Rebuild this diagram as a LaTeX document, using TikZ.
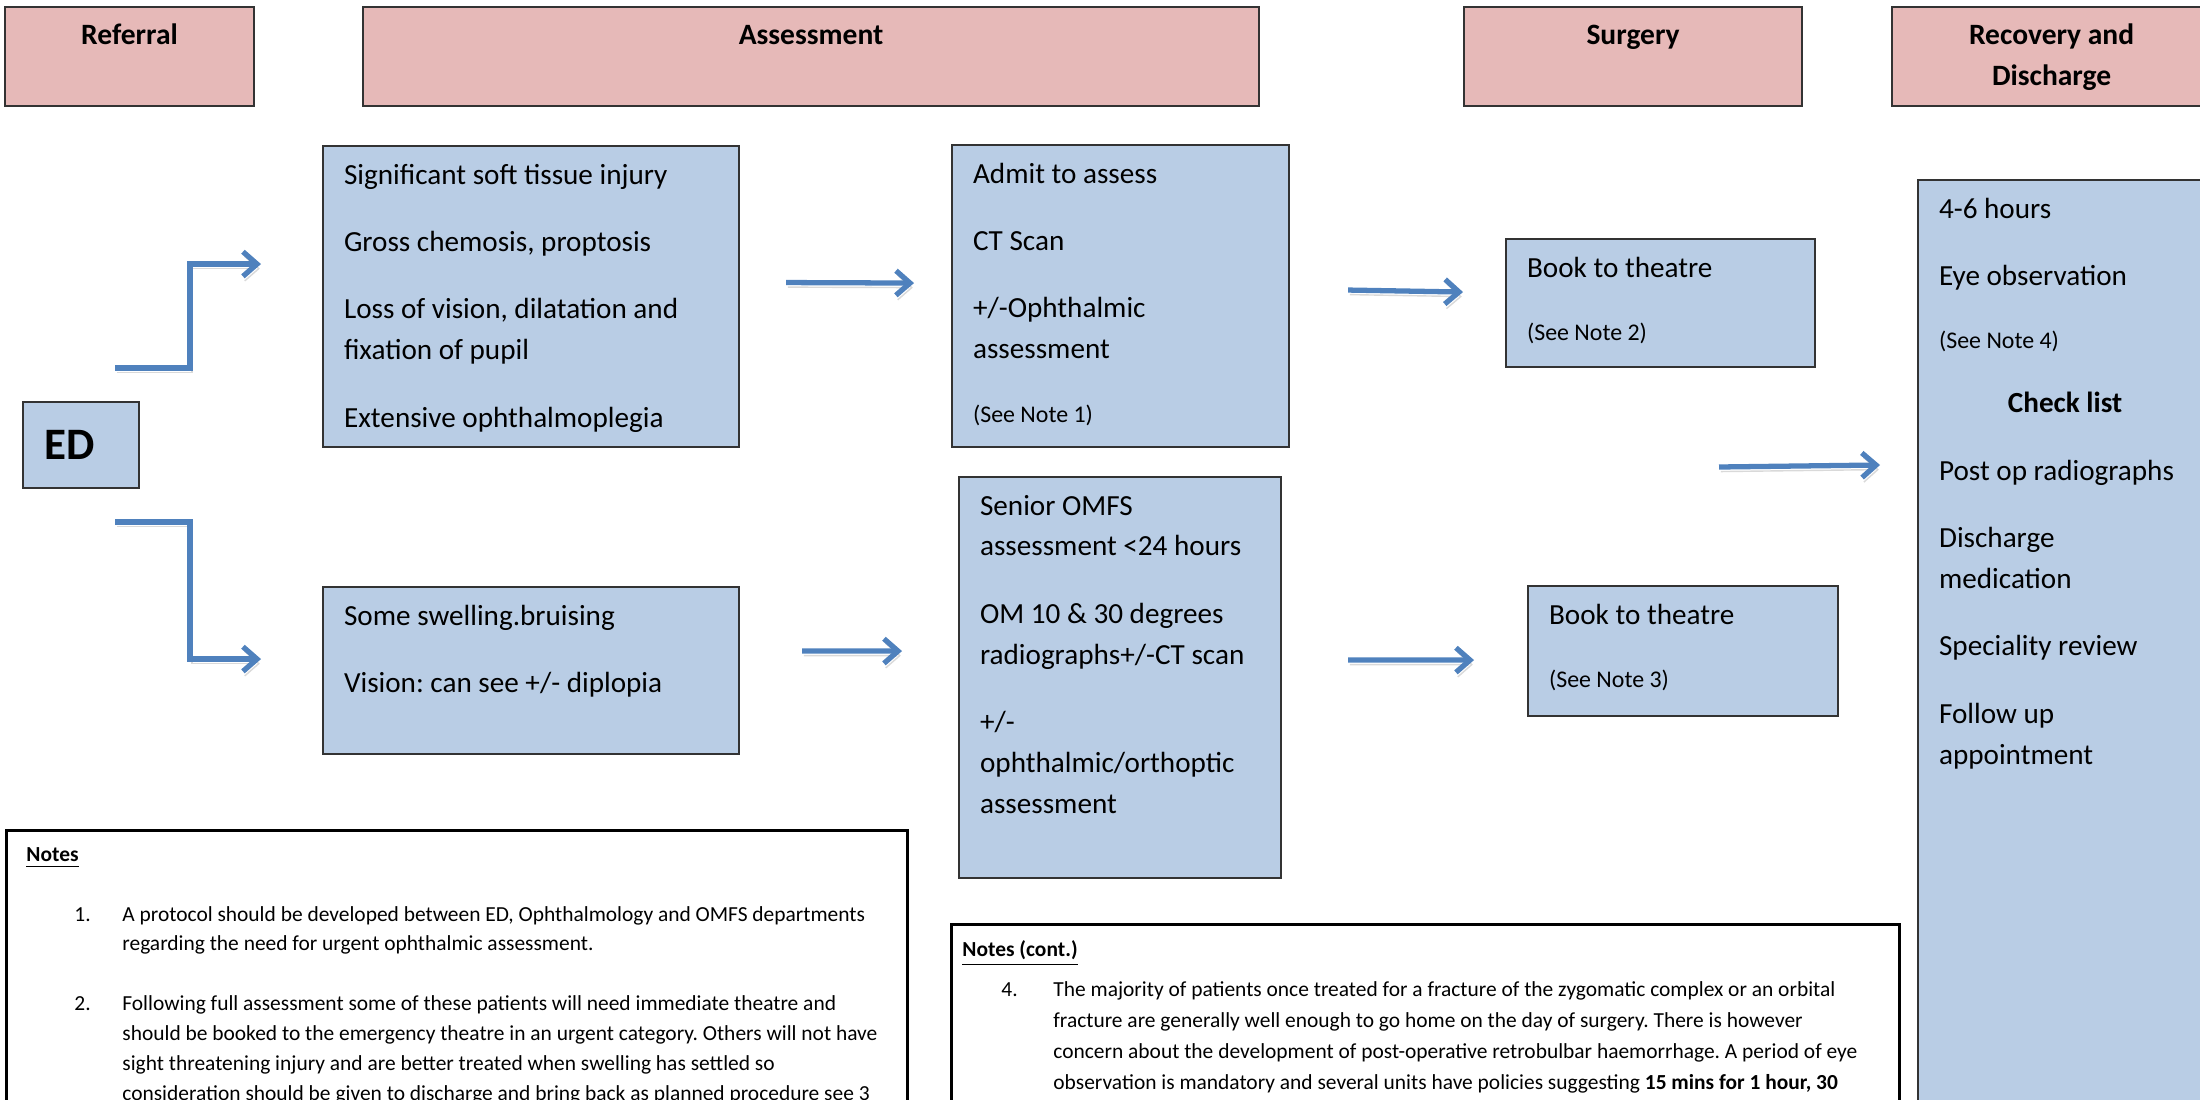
\documentclass[tikz,border=0pt]{standalone}
\usepackage{fontspec}
\setmainfont{Carlito}
\usepackage{xcolor}
\usetikzlibrary{
    arrows.meta,
    calc,
    positioning
}

\definecolor{boxblue}{HTML}{B9CDE5}
\definecolor{boxpink}{HTML}{E6B9B8}
\definecolor{arrowblue}{HTML}{4F81BD}

\frenchspacing
\newcommand{\bodysize}{\fontsize{8.3}{11.6}\selectfont}
\newcommand{\seesize}{\fontsize{6.8}{9}\selectfont}
\newcommand{\headsize}{\fontsize{8.4}{11.7}\selectfont\bfseries}
\newcommand{\notesize}{\fontsize{6.1}{8.5}\selectfont}
\newcommand{\cellbox}[4][10.8pt]{\begin{minipage}[t][#3][t]{#2}\raggedright\rule{0pt}{#1}#4\end{minipage}}

\begin{document}
\begin{tikzpicture}[
    headbox/.style={draw=black!80, fill=boxpink, line width=0.6pt, inner xsep=0.21cm, inner ysep=0pt, anchor=north west, font=\headsize},
    bluebox/.style={draw=black!80, fill=boxblue, line width=0.6pt, inner xsep=0.21cm, inner ysep=0pt, anchor=north west, font=\bodysize},
    notebox/.style={draw=black, line width=0.8pt, inner xsep=0.2cm, inner ysep=0pt, anchor=north west, font=\notesize},
    flow/.style={draw=arrowblue, line width=1.5pt, -{Straight Barb[length=4pt,width=7pt]},
        preaction={draw=black!15, transform canvas={shift={(0.5pt,-1.3pt)}}}}
]
    \useasboundingbox (0,0) rectangle (22,-11);
    \clip (0,0) rectangle (22,-11);

    % Column headers
    \node[headbox] (hRef) at (0.04,-0.06) {\cellbox[10.7pt]{2.07cm}{0.99cm}{\centering Referral}};
    \node[headbox] (hAss) at (3.62,-0.06) {\cellbox[10.7pt]{8.54cm}{0.99cm}{\centering Assessment}};
    \node[headbox] (hSurg) at (14.63,-0.06) {\cellbox[10.7pt]{2.96cm}{0.99cm}{\centering Surgery}};
    \node[headbox] (hRec) at (18.91,-0.06) {\cellbox[10.7pt]{2.77cm}{0.99cm}{\centering Recovery and\\Discharge}};

    % Referral
    \node[bluebox, minimum height=0.86cm, font=\fontsize{12.8}{15}\selectfont\bfseries] (ed) at (0.22,-4.01) {\makebox[0.74cm][l]{ED}};

    % Assessment
    \node[bluebox] (soft) at (3.22,-1.45) {\cellbox{3.74cm}{3.01cm}{Significant soft tissue injury\\[7.6pt]
        Gross chemosis, proptosis\\[7.6pt]
        Loss of vision, dilatation and\\ fixation of pupil\\[7.6pt]
        Extensive ophthalmoplegia}};
    \node[bluebox] (swell) at (3.22,-5.86) {\cellbox{3.74cm}{1.67cm}{Some swelling.bruising\\[7.6pt]
        Vision: can see +/- diplopia}};
    \node[bluebox] (admit) at (9.51,-1.44) {\cellbox{2.95cm}{3.02cm}{Admit to assess\\[7.6pt]
        CT Scan\\[7.6pt]
        +/-Ophthalmic\\ assessment\\[6.4pt]
        {\seesize (See Note 1)}}};
    \node[bluebox] (senior) at (9.58,-4.76) {\cellbox{2.80cm}{4.01cm}{Senior OMFS\\ assessment <24 hours\\[7.6pt]
        OM 10 \& 30 degrees\\ radiographs+/-CT scan\\[7.6pt]
        +/-\\ ophthalmic/orthoptic\\ assessment}};

    % Surgery
    \node[bluebox] (bookA) at (15.05,-2.38) {\cellbox{2.67cm}{1.28cm}{Book to theatre\\[6.4pt]
        {\seesize (See Note 2)}}};
    \node[bluebox] (bookB) at (15.27,-5.85) {\cellbox{2.68cm}{1.30cm}{Book to theatre\\[6.4pt]
        {\seesize (See Note 3)}}};

    % Recovery and discharge
    \node[bluebox] (recov) at (19.17,-1.79) {\cellbox{2.52cm}{9.5cm}{4-6 hours\\[7.6pt]
        Eye observation\\[6.4pt]
        {\seesize (See Note 4)}\\[6.6pt]
        \makebox[\linewidth]{\bfseries Check list}\\[7.6pt]
        Post op radiographs\\[7.6pt]
        Discharge\\ medication\\[7.6pt]
        Speciality review\\[7.6pt]
        Follow up\\ appointment}};

    % Notes
    \node[notebox] (notes) at (0.05,-8.29) {\cellbox[8.8pt]{8.61cm}{3cm}{\underline{\textbf{Notes}}\\[8.5pt]
        \hspace*{0.48cm}\makebox[0.48cm][l]{1.}A protocol should be developed between ED, Ophthalmology and OMFS departments\\
        \hspace*{0.96cm}regarding the need for urgent ophthalmic assessment.\\[8.5pt]
        \hspace*{0.48cm}\makebox[0.48cm][l]{2.}Following full assessment some of these patients will need immediate theatre and\\
        \hspace*{0.96cm}should be booked to the emergency theatre in an urgent category. Others will not have\\
        \hspace*{0.96cm}sight threatening injury and are better treated when swelling has settled so\\
        \hspace*{0.96cm}consideration should be given to discharge and bring back as planned procedure see 3}};
    \node[notebox, inner xsep=0.11cm, font=\fontsize{6.1}{8.8}\selectfont] (notescont) at (9.50,-9.23) {\cellbox[9.1pt]{9.26cm}{2.5cm}{\underline{\textbf{Notes (cont.)}}\\[2.6pt]
        \hspace*{0.39cm}\makebox[0.52cm][l]{4.}The majority of patients once treated for a fracture of the zygomatic complex or an orbital\\
        \hspace*{0.91cm}fracture are generally well enough to go home on the day of surgery. There is however\\
        \hspace*{0.91cm}concern about the development of post-operative retrobulbar haemorrhage. A period of eye\\
        \hspace*{0.91cm}observation is mandatory and several units have policies suggesting \textbf{15 mins for 1 hour, 30}}};

    % Arrows between stages
    \draw[flow] ([shift={(-0.25,0.33)}]ed.north east) -- ++(0.75,0) |- ([shift={(-0.61,0.325)}]soft.west);
    \draw[flow] ([shift={(-0.25,-0.33)}]ed.south east) -- ++(0.75,0) |- ([shift={(-0.61,0.115)}]swell.west);
    \draw[flow] ([shift={(0.46,0.14)}]soft.east) -- ([shift={(-0.37,0.13)}]admit.west);
    \draw[flow] ([shift={(0.62,0.195)}]swell.east) -- ([shift={(-0.56,0.265)}]senior.west);
    \draw[flow] ([shift={(0.58,0.06)}]admit.east) -- ([shift={(-0.42,0.11)}]bookA.west);
    \draw[flow] ([shift={(0.66,0.175)}]senior.east) -- ([shift={(-0.53,-0.09)}]bookB.west);
    \coordinate (merge) at (17.19,-4.67);
    \draw[flow] (merge) -- ([shift={(-0.37,-2.86)}]recov.north west);
\end{tikzpicture}
\end{document}
